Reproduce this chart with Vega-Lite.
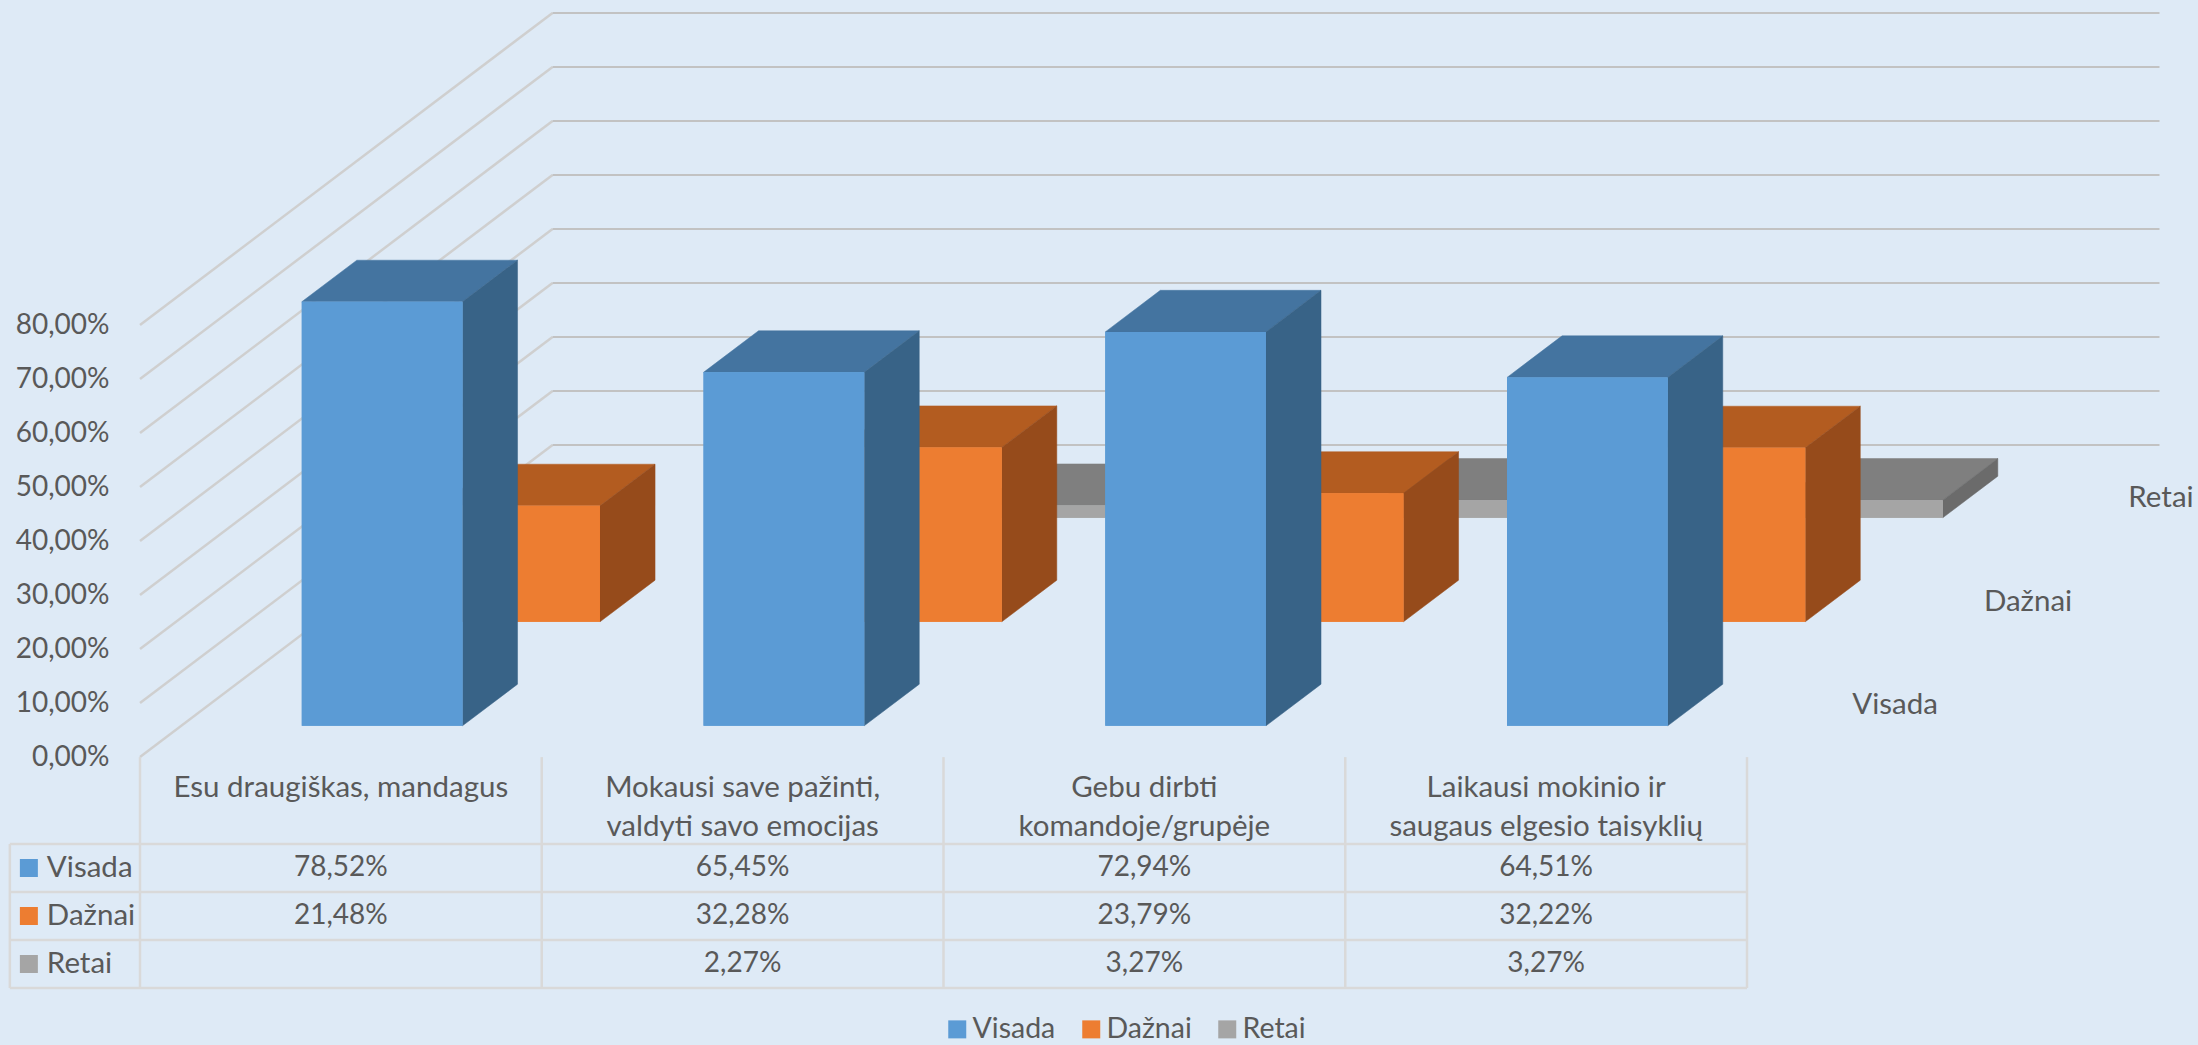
{"$schema":"https://vega.github.io/schema/vega-lite/v6.json","width":2198,"height":1045,"padding":0,"autosize":{"type":"none"},"background":"#DEEAF6","config":{"view":{"stroke":null},"text":{"font":"Lato","fontSize":29.5,"color":"#595959"}},
"datasets":{"bars":[{"category":"Esu draugiškas, mandagus","series":"Visada","value":78.52},{"category":"Mokausi save pažinti, valdyti savo emocijas","series":"Visada","value":65.45},{"category":"Gebu dirbti komandoje/grupėje","series":"Visada","value":72.94},{"category":"Laikausi mokinio ir saugaus elgesio taisyklių","series":"Visada","value":64.51},{"category":"Esu draugiškas, mandagus","series":"Dažnai","value":21.48},{"category":"Mokausi save pažinti, valdyti savo emocijas","series":"Dažnai","value":32.28},{"category":"Gebu dirbti komandoje/grupėje","series":"Dažnai","value":23.79},{"category":"Laikausi mokinio ir saugaus elgesio taisyklių","series":"Dažnai","value":32.22},{"category":"Mokausi save pažinti, valdyti savo emocijas","series":"Retai","value":2.27},{"category":"Gebu dirbti komandoje/grupėje","series":"Retai","value":3.27},{"category":"Laikausi mokinio ir saugaus elgesio taisyklių","series":"Retai","value":3.27}],
"grid":[{"v":0},{"v":10},{"v":20},{"v":30},{"v":40},{"v":50},{"v":60},{"v":70},{"v":80}],
"headers":[{"category":"Esu draugiškas, mandagus","label":"Esu draugiškas, mandagus"},{"category":"Mokausi save pažinti, valdyti savo emocijas","label":"Mokausi save pažinti,\nvaldyti savo emocijas"},{"category":"Gebu dirbti komandoje/grupėje","label":"Gebu dirbti\nkomandoje/grupėje"},{"category":"Laikausi mokinio ir saugaus elgesio taisyklių","label":"Laikausi mokinio ir\nsaugaus elgesio taisyklių"}],
"seriesList":[{"series":"Visada"},{"series":"Dažnai"},{"series":"Retai"}],
"hLines":[{"r":0},{"r":1},{"r":2},{"r":3}],
"vLines":[{"c":0},{"c":1},{"c":2},{"c":3},{"c":4}]},
"data":{"name":"grid"},
"resolve":{"scale":{"x":"independent","y":"independent"}},
"layer":[
{"data":{"name":"grid"},"transform":[{"calculate":"datum.v+57.78","as":"vBack"}],"mark":{"type":"rule","color":"#CFCFCF","strokeWidth":2.5},"encoding":{"x":{"datum":0,"type":"quantitative","scale":{"domain":[0,4],"range":[140,1747]},"axis":null},"x2":{"datum":1.0268},"y":{"field":"v","type":"quantitative","scale":{"domain":[0,80],"range":[757,325]},"axis":{"values":[0,10,20,30,40,50,60,70,80],"orient":"left","offset":-112,"labelPadding":3,"ticks":false,"domain":false,"grid":false,"title":null,"labelFont":"Lato","labelFontSize":28,"labelColor":"#595959","labelExpr":"replace(format(datum.value,'.2f'),'.',',')+'%'"}},"y2":{"field":"vBack"}}},
{"data":{"name":"grid"},"transform":[{"calculate":"datum.v+57.78","as":"vBack"}],"mark":{"type":"rule","color":"#C2C2C2","strokeWidth":2},"encoding":{"x":{"datum":1.0268,"type":"quantitative","scale":{"domain":[0,4],"range":[140,1747]},"axis":null},"x2":{"datum":5.0268},"y":{"field":"vBack","type":"quantitative","scale":{"domain":[0,80],"range":[757,325]},"axis":null}}},
{"data":{"name":"bars"},"transform":[
{"calculate":"indexof(['Esu draugiškas, mandagus','Mokausi save pažinti, valdyti savo emocijas','Gebu dirbti komandoje/grupėje','Laikausi mokinio ir saugaus elgesio taisyklių'],datum.category)","as":"col"},
{"calculate":"indexof(['Visada','Dažnai','Retai'],datum.series)+0.3","as":"z"},
{"calculate":"datum.col+0.3+datum.z*0.3423","as":"x0"},
{"calculate":"datum.x0+0.4","as":"x1"},
{"calculate":"datum.z*19.26","as":"base"},
{"calculate":"datum.base+datum.value","as":"top"},
{"calculate":"[0,1]","as":"t"},{"flatten":["t"]},
{"calculate":"datum.x0+datum.t*0.137","as":"tx0"},
{"calculate":"datum.x1+datum.t*0.137","as":"tx1"},
{"calculate":"datum.top+datum.t*7.704","as":"ty"},
{"calculate":"datum.base+datum.t*7.704","as":"by"}],
"layer":[
{"transform":[{"filter":"datum.series==='Retai'"}],"layer":[
{"mark":{"type":"area","orient":"horizontal","color":"#7F7F7F","stroke":"#7F7F7F","strokeWidth":0.5},"encoding":{"detail":{"field":"category"},"y":{"field":"ty","type":"quantitative","stack":null,"scale":{"domain":[0,80],"range":[757,325]},"axis":null},"x":{"field":"tx0","type":"quantitative","stack":null,"scale":{"domain":[0,4],"range":[140,1747]},"axis":null},"x2":{"field":"tx1"}}},
{"mark":{"type":"area","orient":"vertical","color":"#6B6B6B","stroke":"#6B6B6B","strokeWidth":0.5},"encoding":{"detail":{"field":"category"},"x":{"field":"tx1","type":"quantitative","stack":null,"scale":{"domain":[0,4],"range":[140,1747]},"axis":null},"y":{"field":"ty","type":"quantitative","stack":null,"scale":{"domain":[0,80],"range":[757,325]},"axis":null},"y2":{"field":"by"}}},
{"mark":{"type":"rect"},"encoding":{"x":{"field":"x0","type":"quantitative","scale":{"domain":[0,4],"range":[140,1747]},"axis":null},"x2":{"field":"x1"},"y":{"field":"top","type":"quantitative","scale":{"domain":[0,80],"range":[757,325]},"axis":null},"y2":{"field":"base"},"color":{"field":"series","type":"nominal","scale":{"domain":["Visada","Dažnai","Retai"],"range":["#5B9BD5","#ED7D31","#A5A5A5"]},"legend":{"orient":"none","legendX":943,"legendY":1015,"direction":"horizontal","title":null,"symbolType":"square","symbolSize":324,"symbolStrokeWidth":0,"labelFont":"Lato","labelFontSize":28.5,"labelColor":"#595959","labelOffset":1,"columnPadding":21}}}}
]},
{"transform":[{"filter":"datum.series==='Dažnai'"}],"layer":[
{"mark":{"type":"area","orient":"horizontal","color":"#B35C20","stroke":"#B35C20","strokeWidth":0.5},"encoding":{"detail":{"field":"category"},"y":{"field":"ty","type":"quantitative","stack":null,"scale":{"domain":[0,80],"range":[757,325]},"axis":null},"x":{"field":"tx0","type":"quantitative","stack":null,"scale":{"domain":[0,4],"range":[140,1747]},"axis":null},"x2":{"field":"tx1"}}},
{"mark":{"type":"area","orient":"vertical","color":"#964B1B","stroke":"#964B1B","strokeWidth":0.5},"encoding":{"detail":{"field":"category"},"x":{"field":"tx1","type":"quantitative","stack":null,"scale":{"domain":[0,4],"range":[140,1747]},"axis":null},"y":{"field":"ty","type":"quantitative","stack":null,"scale":{"domain":[0,80],"range":[757,325]},"axis":null},"y2":{"field":"by"}}},
{"mark":{"type":"rect"},"encoding":{"x":{"field":"x0","type":"quantitative","scale":{"domain":[0,4],"range":[140,1747]},"axis":null},"x2":{"field":"x1"},"y":{"field":"top","type":"quantitative","scale":{"domain":[0,80],"range":[757,325]},"axis":null},"y2":{"field":"base"},"color":{"field":"series","type":"nominal","scale":{"domain":["Visada","Dažnai","Retai"],"range":["#5B9BD5","#ED7D31","#A5A5A5"]}}}}
]},
{"transform":[{"filter":"datum.series==='Visada'"}],"layer":[
{"mark":{"type":"area","orient":"horizontal","color":"#4474A0","stroke":"#4474A0","strokeWidth":0.5},"encoding":{"detail":{"field":"category"},"y":{"field":"ty","type":"quantitative","stack":null,"scale":{"domain":[0,80],"range":[757,325]},"axis":null},"x":{"field":"tx0","type":"quantitative","stack":null,"scale":{"domain":[0,4],"range":[140,1747]},"axis":null},"x2":{"field":"tx1"}}},
{"mark":{"type":"area","orient":"vertical","color":"#386387","stroke":"#386387","strokeWidth":0.5},"encoding":{"detail":{"field":"category"},"x":{"field":"tx1","type":"quantitative","stack":null,"scale":{"domain":[0,4],"range":[140,1747]},"axis":null},"y":{"field":"ty","type":"quantitative","stack":null,"scale":{"domain":[0,80],"range":[757,325]},"axis":null},"y2":{"field":"by"}}},
{"mark":{"type":"rect"},"encoding":{"x":{"field":"x0","type":"quantitative","scale":{"domain":[0,4],"range":[140,1747]},"axis":null},"x2":{"field":"x1"},"y":{"field":"top","type":"quantitative","scale":{"domain":[0,80],"range":[757,325]},"axis":null},"y2":{"field":"base"},"color":{"field":"series","type":"nominal","scale":{"domain":["Visada","Dažnai","Retai"],"range":["#5B9BD5","#ED7D31","#A5A5A5"]}}}}
]}
]},
{"data":{"name":"hLines"},"mark":{"type":"rule","color":"#D9D9D9","strokeWidth":2.5},"encoding":{"x":{"datum":-0.324,"type":"quantitative","scale":{"domain":[0,4],"range":[140,1747]},"axis":null},"x2":{"datum":4},"y":{"field":"r","type":"quantitative","scale":{"domain":[0,3],"range":[844,988]},"axis":null}}},
{"data":{"name":"vLines"},"mark":{"type":"rule","color":"#D9D9D9","strokeWidth":2.5},"encoding":{"x":{"field":"c","type":"quantitative","scale":{"domain":[0,4],"range":[140,1747]},"axis":null},"y":{"datum":-1.81,"type":"quantitative","scale":{"domain":[0,3],"range":[844,988]},"axis":null},"y2":{"datum":3}}},
{"data":{"name":"hLines"},"transform":[{"filter":"datum.r===0"}],"mark":{"type":"rule","color":"#D9D9D9","strokeWidth":2.5},"encoding":{"x":{"datum":-0.324,"type":"quantitative","scale":{"domain":[0,4],"range":[140,1747]},"axis":null},"y":{"field":"r","type":"quantitative","scale":{"domain":[0,3],"range":[844,988]},"axis":null},"y2":{"datum":3}}},
{"data":{"name":"headers"},"mark":{"type":"text","baseline":"top","align":"center","lineBreak":"\n","lineHeight":39},"encoding":{"x":{"field":"category","type":"nominal","sort":null,"scale":{"type":"band","domain":["Esu draugiškas, mandagus","Mokausi save pažinti, valdyti savo emocijas","Gebu dirbti komandoje/grupėje","Laikausi mokinio ir saugaus elgesio taisyklių"],"range":[140,1747]},"axis":null},"y":{"datum":-1.458,"type":"quantitative","scale":{"domain":[0,3],"range":[844,988]},"axis":null},"text":{"field":"label"}}},
{"data":{"name":"bars"},"transform":[{"calculate":"replace(format(datum.value,'.2f'),'.',',')+'%'","as":"label"}],"mark":{"type":"text","align":"center","baseline":"middle","fontSize":28},"encoding":{"x":{"field":"category","type":"nominal","scale":{"type":"band","domain":["Esu draugiškas, mandagus","Mokausi save pažinti, valdyti savo emocijas","Gebu dirbti komandoje/grupėje","Laikausi mokinio ir saugaus elgesio taisyklių"],"range":[140,1747]},"axis":null},"y":{"field":"series","type":"nominal","scale":{"type":"band","domain":["Visada","Dažnai","Retai"],"range":[844,988]},"axis":null},"text":{"field":"label"}}},
{"data":{"name":"seriesList"},"layer":[
{"mark":{"type":"square","size":324,"opacity":1},"encoding":{"x":{"datum":-0.2766,"type":"quantitative","scale":{"domain":[0,4],"range":[140,1747]},"axis":null},"y":{"field":"series","type":"nominal","scale":{"type":"band","domain":["Visada","Dažnai","Retai"],"range":[844,988]},"axis":null},"color":{"field":"series","type":"nominal","scale":{"domain":["Visada","Dažnai","Retai"],"range":["#5B9BD5","#ED7D31","#A5A5A5"]}}}},
{"mark":{"type":"text","align":"left","baseline":"middle"},"encoding":{"x":{"datum":-0.2318,"type":"quantitative","scale":{"domain":[0,4],"range":[140,1747]},"axis":null},"y":{"field":"series","type":"nominal","scale":{"type":"band","domain":["Visada","Dažnai","Retai"],"range":[844,988]},"axis":null},"text":{"field":"series"}}}
]},
{"data":{"name":"seriesList"},"mark":{"type":"text","align":"center","baseline":"middle"},"encoding":{"x":{"field":"series","type":"nominal","scale":{"type":"point","padding":0,"domain":["Visada","Dažnai","Retai"],"range":[1895,2161]},"axis":null},"y":{"field":"series","type":"nominal","scale":{"type":"point","padding":0,"domain":["Visada","Dažnai","Retai"],"range":[705,498]},"axis":null},"text":{"field":"series"}}}
]}
